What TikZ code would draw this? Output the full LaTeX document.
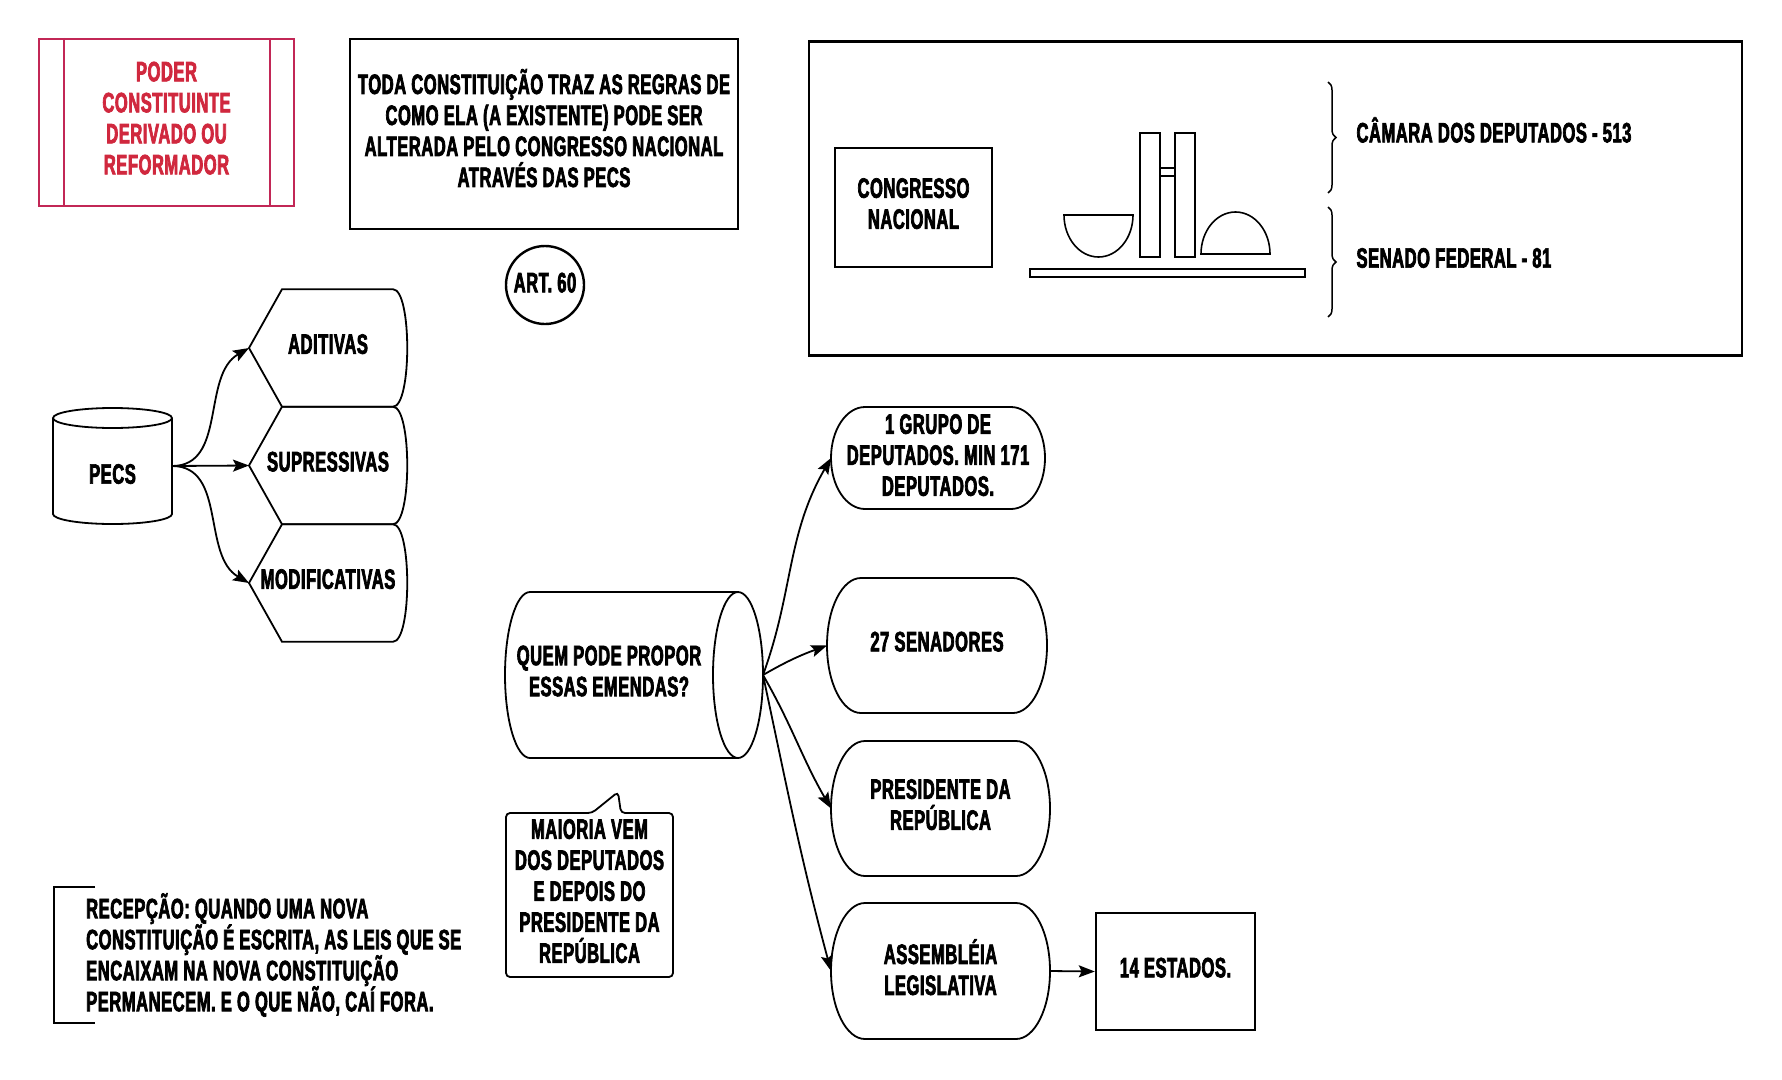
\documentclass[tikz,border=0pt]{standalone}
\usepackage{fontspec}
\newfontfamily\condfont{Liberation Sans Bold}[FakeStretch=0.59, FakeBold=2.5, LetterSpace=2]
\usetikzlibrary{arrows.meta,positioning,shapes.geometric,decorations.pathreplacing}
\definecolor{poderline}{RGB}{194,39,86}
\definecolor{poderred}{RGB}{208,40,62}
% extra depth on the last line, lifts the text a little
\newcommand\folga[1][8pt]{\rule[-#1]{0pt}{#1}}

\begin{document}
\begin{tikzpicture}[x=1pt,y=1pt]
    \tikzset{base/.style= {font=\condfont\fontsize{28}{31}\selectfont
    , align=center
      },
    block/.style= {base, draw, rectangle
    , line width=2.4pt
    , inner sep=0pt
      },
    shell/.style= {base, rectangle
    , inner sep=0pt, outer sep=0pt
      },
    link/.style= {line width=1.8pt
    , -{Stealth[length=16pt,width=12pt,inset=3pt]}
      }
    }
\useasboundingbox (0,0) rectangle (1782,-1079);

% top row
\node [block, draw=poderline, text=poderred, minimum width=255pt, minimum height=167pt] (poder) at (166.5,-122.5) {PODER\\CONSTITUINTE\\DERIVADO OU\\REFORMADOR\folga[9pt]};
\draw [line width=2.4pt, poderline] ([xshift=26pt]poder.north west) -- ([xshift=26pt]poder.south west)
  ([xshift=-25pt]poder.north east) -- ([xshift=-25pt]poder.south east);
\node [block, minimum width=388pt, minimum height=190pt] (toda) at (544,-134) {TODA CONSTITUIÇÃO TRAZ AS REGRAS DE\\COMO ELA (A EXISTENTE) PODE SER\\ALTERADA PELO CONGRESSO NACIONAL\\ATRAVÉS DAS PECS\folga[12pt]};
\node [block, circle, minimum size=78pt] (art) at (545,-285) {ART. 60\folga[5pt]};

% congresso
\node [block, minimum width=933pt, minimum height=314pt] (quadro) at (1275.5,-198.5) {};
\node [block, minimum width=157pt, minimum height=119pt] (congresso) at (913.5,-207.5) {CONGRESSO\\NACIONAL\folga};
\begin{scope}[line width=1.6pt]
\draw (1030,-269) rectangle (1305,-277);
\draw (1140,-133) rectangle (1160,-257);
\draw (1175,-133) rectangle (1195,-257);
\draw (1160,-168) -- (1175,-168) (1160,-176) -- (1175,-176);
\draw (1064,-215) -- (1133,-215) arc[start angle=0, end angle=-180, x radius=34.5, y radius=42] -- cycle;
\draw (1201,-254) -- (1270,-254) arc[start angle=0, end angle=180, x radius=34.5, y radius=42] -- cycle;
\end{scope}
\node [base, anchor=west] (camara) at (1353,-130) {CÂMARA DOS DEPUTADOS - 513};
\node [base, anchor=west] (senado) at (1353,-258) {SENADO FEDERAL - 81};
\coordinate (chave1a) at (1328,-82);
\coordinate (chave1b) at (1328,-193);
\coordinate (chave2a) at (1328,-207);
\coordinate (chave2b) at (1328,-317);
\draw [line width=1.5pt, decorate, decoration={brace, amplitude=8pt}] (chave1a) -- (chave1b);
\draw [line width=1.5pt, decorate, decoration={brace, amplitude=8pt}] (chave2a) -- (chave2b);

% pecs
\node [shell, minimum width=119pt, minimum height=116pt,
  label={[base, yshift=-8pt]center:PECS}] (pecs) at (112.5,-466) {};
\draw [line width=1.8pt] ([yshift=-10pt]pecs.north west) -- ([yshift=10pt]pecs.south west)
  arc[start angle=180, end angle=360, x radius=59.5, y radius=10] -- ([yshift=-10pt]pecs.north east)
  arc[start angle=0, end angle=180, x radius=59.5, y radius=10]
  arc[start angle=180, end angle=360, x radius=59.5, y radius=10];
\node [shell, minimum width=158pt, minimum height=117.5pt] (aditivas) at (328,-348) {ADITIVAS\folga};
\node [shell, minimum width=158pt, minimum height=117.5pt, below=0pt of aditivas] (supressivas) {SUPRESSIVAS\folga};
\node [shell, minimum width=158pt, minimum height=117.5pt, below=0pt of supressivas] (modificativas) {MODIFICATIVAS\folga};
\foreach \n in {aditivas,supressivas,modificativas}
  \draw [line width=1.8pt] (\n.west) -- ([xshift=33pt]\n.north west) -- ([xshift=-14pt]\n.north east)
    .. controls ([xshift=5pt]\n.north east) and ([xshift=5pt]\n.south east) .. ([xshift=-14pt]\n.south east)
    -- ([xshift=33pt]\n.south west) -- cycle;
\draw [link] (pecs.east) to[out=0, in=210] (aditivas.west);
\draw [link] (pecs.east) -- (supressivas.west);
\draw [link] (pecs.east) to[out=0, in=150] (modificativas.west);

% quem pode propor
\node [shell, minimum width=258pt, minimum height=166pt,
  label={[base, xshift=-25pt, yshift=4pt]center:QUEM PODE PROPOR\\ESSAS EMENDAS?}] (quem) at (634,-675) {};
\draw [line width=1.8pt] ([xshift=25pt]quem.north west) -- ([xshift=-25pt]quem.north east)
  arc[start angle=90, end angle=-90, x radius=25, y radius=83] -- ([xshift=25pt]quem.south west)
  arc[start angle=270, end angle=90, x radius=25, y radius=83] -- cycle;
\draw [line width=1.8pt] ([xshift=-25pt]quem.north east) arc[start angle=90, end angle=270, x radius=25, y radius=83];
\node [shell, minimum width=167pt, minimum height=164pt] (maioria) at (589.5,-895) {MAIORIA VEM\\DOS DEPUTADOS\\E DEPOIS DO\\PRESIDENTE DA\\REPÚBLICA\folga};
\coordinate (ponta) at (618,-792);
\draw [line width=1.8pt, rounded corners=4pt] (maioria.south west) -- (maioria.north west) -- ([xshift=86pt]maioria.north west)
  -- (ponta) -- ([xshift=115pt]maioria.north west) -- (maioria.north east) -- (maioria.south east) -- cycle;

\node [shell, minimum width=214pt, minimum height=102pt] (grupo) at (938,-458) {1 GRUPO DE\\DEPUTADOS. MIN 171\\DEPUTADOS.\folga[6pt]};
\node [shell, minimum width=220pt, minimum height=135pt] (senadores) at (937,-645.5) {27 SENADORES\folga};
\node [shell, minimum width=219pt, minimum height=135pt] (presidente) at (940.5,-808.5) {PRESIDENTE DA\\REPÚBLICA\folga};
\node [shell, minimum width=219pt, minimum height=136pt] (assembleia) at (940.5,-971) {ASSEMBLÉIA\\LEGISLATIVA\folga};
\foreach \n/\r in {grupo/51,senadores/67.5,presidente/67.5,assembleia/68}
  \draw [line width=1.8pt] ([xshift=34pt]\n.north west) arc[start angle=90, end angle=270, x radius=34, y radius=\r]
    -- ([xshift=-34pt]\n.south east) arc[start angle=-90, end angle=90, x radius=34, y radius=\r] -- cycle;
\node [block, minimum width=159pt, minimum height=117pt] (estados) at (1175.5,-971.5) {14 ESTADOS.\folga};

\draw [link] (quem.east) to[out=70, in=240] (grupo.west);
\draw [link] (quem.east) to[out=30, in=200] (senadores.west);
\draw [link] (quem.east) to[out=-60, in=120] (presidente.west);
\draw [link] (quem.east) to[out=-78, in=105] (assembleia.west);
\draw [link] (assembleia.east) -- (estados.west);

% recepcao
\node [base, align=left, anchor=west, inner xsep=32pt, inner ysep=6pt] (recepcao) at (54,-955) {RECEPÇÃO: QUANDO UMA NOVA\\CONSTITUIÇÃO É ESCRITA, AS LEIS QUE SE\\ENCAIXAM NA NOVA CONSTITUIÇÃO\\PERMANECEM. E O QUE NÃO, CAÍ FORA.};
\draw [line width=2.4pt] ([xshift=41pt]recepcao.north west) -- (recepcao.north west) -- (recepcao.south west) -- ([xshift=41pt]recepcao.south west);
\end{tikzpicture}
\end{document}
